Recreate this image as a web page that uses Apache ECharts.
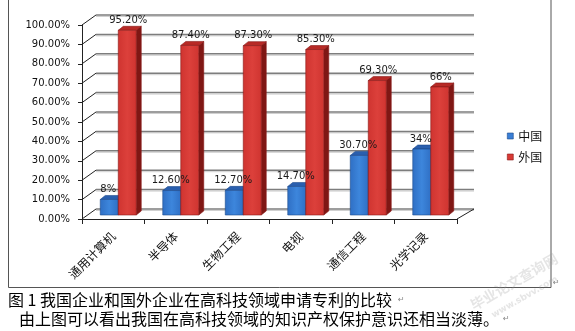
<!DOCTYPE html>
<html>
<head>
<meta charset="utf-8">
<script src="https://cdn.jsdelivr.net/npm/echarts@6/dist/echarts.min.js"></script>
<style>
html,body{margin:0;padding:0;background:#fff;}
#chart{width:575px;height:331px;}
</style>
</head>
<body>
<div id="chart"></div>
<script>
// ---- data ----
const categories = ['通用计算机', '半导体', '生物工程', '电视', '通信工程', '光学记录'];
const chinaValues = [8, 12.6, 12.7, 14.7, 30.7, 34];
const foreignValues = [95.2, 87.4, 87.3, 85.3, 69.3, 66];
const yTicks = [0, 10, 20, 30, 40, 50, 60, 70, 80, 90, 100];
const seriesNames = ['中国', '外国'];
const captionLine1 = '图 1 我国企业和国外企业在高科技领域申请专利的比较';
const captionLine2 = '由上图可以看出我国在高科技领域的知识产权保护意识还相当淡薄。';

// ---- 3D look constants ----
const WALL_DXL = 14, WALL_DXR = 17, WALL_DY = -10;
const BAR_FX = 5, BAR_FY = -4, BAR_DX = 5, BAR_DY = -4, BAR_W = 18;

const chart = echarts.init(document.getElementById('chart'), null, {renderer: 'canvas'});

function fmtLabel(v) {
  return Number.isInteger(v) ? v + '%' : v.toFixed(2) + '%';
}

function wallRender(params, api) {
  const v = api.value(0);
  const cs = params.coordSys;
  const y = api.coord([0, v])[1];
  const x0 = cs.x, x1 = cs.x + cs.width;
  const children = [
    {type: 'line', shape: {x1: x0 + WALL_DXL, y1: y + WALL_DY, x2: x1 + WALL_DXR, y2: y + WALL_DY},
     style: {stroke: '#d0d0d0', lineWidth: 1}, position: [0, 1.5], silent: true},
    {type: 'line', shape: {x1: x0 + WALL_DXL, y1: y + WALL_DY, x2: x1 + WALL_DXR, y2: y + WALL_DY},
     style: {stroke: '#7d7d7d', lineWidth: 1.5}, silent: true},
    {type: 'line', shape: {x1: x0, y1: y, x2: x0 + WALL_DXL, y2: y + WALL_DY},
     style: {stroke: '#222', lineWidth: 1}, silent: true}
  ];
  if (v === 0) {
    children.push({type: 'line', shape: {x1: x1, y1: y, x2: x1 + WALL_DXR, y2: y + WALL_DY},
      style: {stroke: '#222', lineWidth: 1}, silent: true});
  }
  return {type: 'group', children: children};
}

function barGeom(api, side) {
  const idx = api.value(0);
  const val = api.value(1);
  const base = api.coord([idx, 0]);
  const topY = api.coord([idx, val])[1] + BAR_FY;
  const baseY = base[1] + BAR_FY;
  const cx = base[0] + BAR_FX;
  const x1 = side === 0 ? cx - BAR_W : cx;
  return {val: val, x1: x1, x2: x1 + BAR_W, topY: topY, baseY: baseY};
}

function makeBarRender(side, colors) {
  return function (params, api) {
    const g = barGeom(api, side);
    const x1 = g.x1, x2 = g.x2, topY = g.topY, baseY = g.baseY;
    return {
      type: 'group',
      children: [
        {type: 'polygon', shape: {points: [[x2, topY], [x2 + BAR_DX, topY + BAR_DY], [x2 + BAR_DX, baseY + BAR_DY], [x2, baseY]]},
         style: {fill: colors.side, stroke: colors.edge, lineWidth: 0.6}},
        {type: 'polygon', shape: {points: [[x1, topY], [x1 + BAR_DX, topY + BAR_DY], [x2 + BAR_DX, topY + BAR_DY], [x2, topY]]},
         style: {fill: colors.top, stroke: colors.edge, lineWidth: 0.6}},
        {type: 'rect', shape: {x: x1, y: topY, width: BAR_W, height: baseY - topY},
         style: {fill: new echarts.graphic.LinearGradient(0, 0, 1, 0, [
           {offset: 0, color: colors.f0}, {offset: 0.5, color: colors.f1}, {offset: 1, color: colors.f0}]),
           stroke: colors.edge, lineWidth: 0.6}}
      ]
    };
  };
}

function makeLabelRender(side) {
  return function (params, api) {
    const g = barGeom(api, side);
    return {type: 'text', style: {x: (g.x1 + g.x2) / 2 + (side === 0 ? -1 : 1), y: g.topY - 5, text: fmtLabel(g.val),
      textAlign: 'center', textVerticalAlign: 'bottom',
      font: '10px "DejaVu Sans"', fill: '#1a1a1a'}};
  };
}

const blueColors = {f0: '#2f6fc4', f1: '#3d86dc', top: '#2a5fae', side: '#1d4787', edge: '#1c4a8c'};
const redColors = {f0: '#cf3430', f1: '#dc403b', top: '#b72a26', side: '#7f1714', edge: '#8a1a17'};

const option = {
  backgroundColor: '#fff',
  animation: false,
  grid: {left: 82, top: 25, width: 375, height: 194, containLabel: false},
  legend: {
    orient: 'vertical', left: 502, top: 124,
    itemWidth: 6, itemHeight: 6, itemGap: 7, icon: 'rect',
    textStyle: {fontSize: 12, fontFamily: '"Noto Sans CJK SC"', color: '#111', lineHeight: 14},
    data: [
      {name: seriesNames[0], itemStyle: {color: '#3a7fd6', borderColor: '#1c4a8c', borderWidth: 0.6}},
      {name: seriesNames[1], itemStyle: {color: '#d83a35', borderColor: '#8a1a17', borderWidth: 0.6}}
    ]
  },
  xAxis: {
    type: 'category', data: categories,
    axisLine: {lineStyle: {color: '#222', width: 1}},
    axisTick: {show: true, length: 5, lineStyle: {color: '#222'}},
    axisLabel: {rotate: 45, margin: 15, fontSize: 12, fontFamily: '"Noto Sans CJK SC"', color: '#111'},
    splitLine: {show: false}
  },
  yAxis: {
    type: 'value', min: 0, max: 100, interval: 10,
    axisLine: {show: true, lineStyle: {color: '#222', width: 1}},
    axisTick: {show: true, length: 4, lineStyle: {color: '#222'}},
    axisLabel: {margin: 12, fontSize: 10, fontFamily: '"DejaVu Sans"', color: '#111',
      formatter: v => v.toFixed(2) + '%'},
    splitLine: {show: false}
  },
  series: [
    {type: 'custom', name: 'wall', renderItem: wallRender, data: yTicks.map(v => [v]), z: 1, silent: true},
    {type: 'custom', name: seriesNames[0], renderItem: makeBarRender(0, blueColors),
     itemStyle: {color: '#3a7fd6'}, data: chinaValues.map((v, i) => [i, v]), z: 3},
    {type: 'custom', name: seriesNames[1], renderItem: makeBarRender(1, redColors),
     itemStyle: {color: '#d83a35'}, data: foreignValues.map((v, i) => [i, v]), z: 4},
    {type: 'custom', name: 'labelsChina', renderItem: makeLabelRender(0),
     data: chinaValues.map((v, i) => [i, v]), z: 10, silent: true},
    {type: 'custom', name: 'labelsForeign', renderItem: makeLabelRender(1),
     data: foreignValues.map((v, i) => [i, v]), z: 10, silent: true}
  ],
  graphic: [
    {type: 'rect', shape: {x: 8.5, y: -5, width: 542.5, height: 292.5},
     style: {fill: null, stroke: '#555', lineWidth: 1}, z: -1, silent: true},
    {type: 'text', left: 8, top: 292, style: {text: captionLine1, font: '16px "Noto Sans CJK SC"', fill: '#000'}},
    {type: 'text', left: 19, top: 311, style: {text: captionLine2, font: '16px "Noto Sans CJK SC"', fill: '#000'}},
    {type: 'text', x: 398, y: 296, style: {text: '↵', font: '8px "DejaVu Sans"', fill: '#888'}},
    {type: 'text', x: 503, y: 315, style: {text: '↵', font: '8px "DejaVu Sans"', fill: '#888'}},
    {type: 'text', x: 553, y: 279, style: {text: '↵', font: '8px "DejaVu Sans"', fill: '#888'}},
    {type: 'text', x: 468, y: 300, rotation: Math.PI / 6,
     style: {text: '毕业论文查询网', font: 'bold 14px "Noto Sans CJK SC"', fill: 'rgba(150,150,150,0.25)'}, silent: true},
    {type: 'text', x: 490, y: 312, rotation: Math.PI / 6,
     style: {text: 'www.sbvv.com', font: 'bold 9px "DejaVu Sans"', fill: 'rgba(150,150,150,0.25)'}, silent: true}
  ]
};
chart.setOption(option);
</script>
</body>
</html>
